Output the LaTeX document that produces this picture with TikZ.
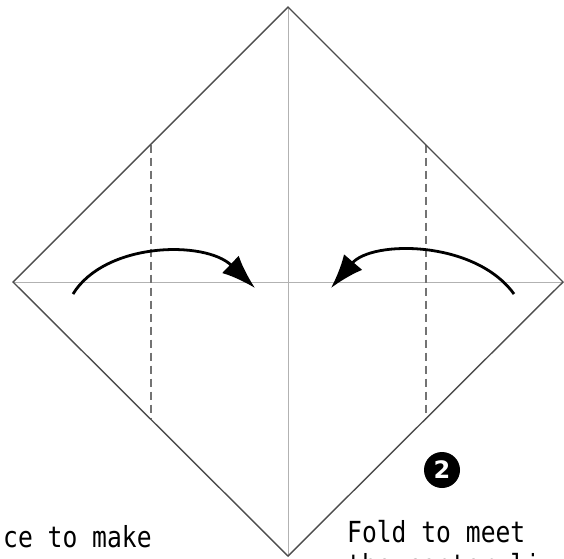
\documentclass[tikz,border=0pt]{standalone}
\usepackage{fontspec}
\newfontfamily\gothic[FakeStretch=0.85]{DejaVu Sans Mono}
\newfontfamily\numfont{DejaVu Sans}
\usetikzlibrary{positioning, arrows.meta, calc}

\begin{document}
\begin{tikzpicture}[
    x=1pt, y=-1pt,
    foldedge/.style={draw=black!70, line width=1.4pt},
    creaseline/.style={draw=black!30, line width=1pt},
    valleyfold/.style={draw=black!55, line width=2pt, dash pattern=on 8pt off 5pt},
    movearrow/.style={draw, line width=2.8pt, -{Latex[length=34pt, width=24pt]}},
    caption/.style={anchor=base west, inner sep=0pt, font=\gothic\fontsize{29}{33}\selectfont},
    stepmark/.style={circle, fill=black, text=white, inner sep=0pt, minimum size=36pt,
        font=\numfont\bfseries\fontsize{24}{24}\selectfont}
]
    \clip (0,0) rectangle (564,558);

    % square, corner up
    \coordinate (T) at (288,7);
    \coordinate (L) at (13,282);
    \coordinate (B) at (288,556);
    \coordinate (R) at (563,282);

    \draw[creaseline] (L) -- (R);
    \draw[creaseline] (T) -- (B);
    \draw[valleyfold] ($(L)!.5!(T)$) -- ($(L)!.5!(B)$);
    \draw[valleyfold] ($(R)!.5!(T)$) -- ($(R)!.5!(B)$);
    \draw[foldedge] (T) -- (L) -- (B) -- (R) -- cycle;

    % fold arrows
    \coordinate (la) at (73,294);
    \coordinate (lb) at (255,288);
    \coordinate (ra) at (514,294);
    \coordinate (rb) at (331,288);
    \draw[movearrow] (la) .. controls (105,242) and (205,240) .. (lb);
    \draw[movearrow] (ra) .. controls (475,240) and (372,240) .. (rb);

    % step number and text
    \node[stepmark] (num) at (442,470) {2};
    \node[caption] (fold) at (347,542) {Fold to meet};
    \node[caption] (line) at (347,575) {the center li};
    \node[caption] (crease) at (3,547) {ce to make};
\end{tikzpicture}
\end{document}
